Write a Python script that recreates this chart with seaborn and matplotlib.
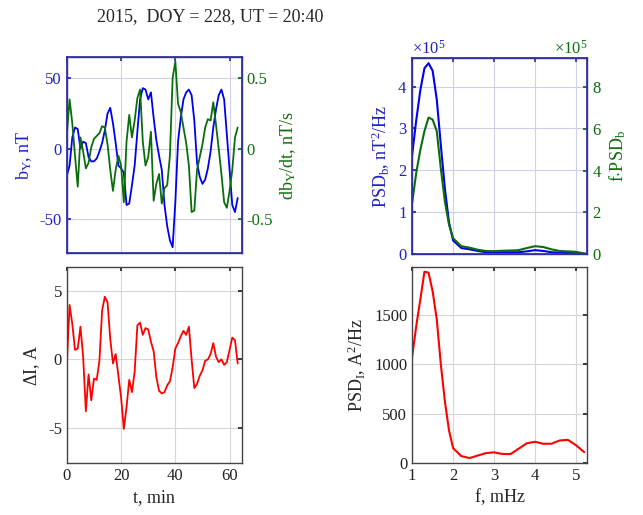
import numpy as np
import pandas as pd
import seaborn as sns
import matplotlib.pyplot as plt
from matplotlib.ticker import ScalarFormatter, FuncFormatter

# time series, 1 min step
t_min = list(range(64))
b_y = [-19, -12, 8, 15, 14, 0, 5, 4, -6, -9, -9, -7, -2, 4, 13, 25,
       29, 18, 4, -12, -14, -17, -40, -39, -26, -12, 12, 35, 43, 42, 35, 40,
       22, 6, -5, -15, -40, -55, -65, -70, -38, 5, 22, 35, 40, 42, 38, 20,
       -10, -20, -25, -22, -14, -2, 15, 28, 38, 42, 35, 10, -15, -40, -45, -35]
db_dt = [0.10, 0.35, 0.18, -0.05, -0.27, 0.08, -0.02, -0.14, -0.10, 0.01, 0.07, 0.09, 0.11, 0.16, 0.15, 0.03,
         -0.15, -0.30, -0.15, -0.05, -0.12, -0.38, 0.05, 0.24, 0.08, 0.20, 0.36, 0.42, 0.05, -0.12, -0.06, 0.12,
         -0.37, -0.25, -0.18, -0.39, -0.28, -0.26, -0.05, 0.50, 0.62, 0.32, 0.26, 0.15, 0.04, -0.12, -0.45, -0.44,
         -0.15, -0.06, 0.03, 0.15, 0.21, 0.20, 0.33, 0.17, 0.00, -0.18, -0.38, -0.42, -0.30, -0.15, 0.08, 0.15]
d_i = [-0.3, 4.0, 2.6, 0.7, 0.8, 2.4, 0.2, -3.8, -1.1, -3.0, -1.4, -1.5, -0.1, 3.6, 4.6, 4.2,
       1.5, -0.3, 0.4, -1.2, -2.8, -5.1, -3.5, -1.5, -2.4, -0.9, 2.5, 2.7, 1.8, 2.3, 2.2, 1.3,
       0.6, -1.3, -2.3, -2.5, -2.4, -1.9, -1.6, -0.6, 0.8, 1.2, 1.7, 2.1, 1.8, 2.4, 0.0, -2.1,
       -1.8, -1.2, -0.8, -0.1, 0.0, 0.4, 1.2, 0.2, -0.2, 0.0, -0.4, -0.2, 0.7, 1.6, 1.4, -0.3]

# spectra
f_mhz = [1.0, 1.1, 1.2, 1.3, 1.4, 1.5, 1.6, 1.7, 1.8, 1.9, 2.0, 2.2, 2.4, 2.6,
         2.8, 3.0, 3.2, 3.4, 3.6, 3.8, 4.0, 4.2, 4.4, 4.6, 4.8, 5.0, 5.25]
psd_b = [2.37, 3.2, 3.92, 4.44, 4.56, 4.38, 3.7, 2.6, 1.55, 0.75, 0.32, 0.14, 0.11, 0.07,
         0.04, 0.04, 0.04, 0.04, 0.04, 0.06, 0.09, 0.07, 0.04, 0.03, 0.02, 0.02, 0.0]
fpsd_b = [2.45, 3.9, 5.0, 5.9, 6.55, 6.45, 5.9, 4.1, 2.5, 1.4, 0.75, 0.37, 0.30, 0.20,
          0.14, 0.13, 0.15, 0.16, 0.18, 0.28, 0.37, 0.33, 0.22, 0.14, 0.12, 0.10, 0.0]
f_i = [1.0, 1.1, 1.2, 1.3, 1.4, 1.5, 1.6, 1.7, 1.8, 1.9, 2.0, 2.2, 2.4, 2.6,
       2.8, 3.0, 3.2, 3.4, 3.6, 3.8, 4.0, 4.2, 4.4, 4.6, 4.8, 5.0, 5.2]
psd_i = [1080, 1390, 1660, 1940, 1930, 1740, 1460, 1000, 620, 330, 150, 70, 50, 75,
         100, 108, 92, 90, 145, 200, 215, 195, 195, 228, 235, 180, 110]

ts = pd.DataFrame({"t": t_min, "b": b_y, "db": db_dt, "dI": d_i})
spb = pd.DataFrame({"f": f_mhz, "psd": np.array(psd_b) * 1e5, "fpsd": np.array(fpsd_b) * 1e5})
spi = pd.DataFrame({"f": f_i, "psd": psd_i})

sns.set_theme(style="white")
plt.rcParams["font.family"] = ["Liberation Serif", "DejaVu Serif"]
plt.rcParams["mathtext.fontset"] = "custom"
plt.rcParams["mathtext.rm"] = "Liberation Serif"
plt.rcParams["mathtext.it"] = "Liberation Serif:italic"
plt.rcParams["axes.unicode_minus"] = False

BLUE = "#0000ee"
GREEN = "#0a6e0a"
RED = "#ff0000"
TXT_BLUE = "#2020c8"
FRAME_BLUE = "#3030a0"
GRID_TOP = "#d0d0ea"
GRID_BOT = "#d6d6d6"
FS = 12

fig = plt.figure(figsize=(6.43, 5.15), dpi=100)
ax1 = fig.add_axes([0.104, 0.509, 0.272, 0.380])
ax2 = fig.add_axes([0.104, 0.101, 0.272, 0.381])
ax3 = fig.add_axes([0.641, 0.507, 0.272, 0.380])
ax4 = fig.add_axes([0.641, 0.101, 0.272, 0.381])

gfmt = FuncFormatter(lambda v, p: f"{v:g}")

def frame(ax, color, grid):
    for s in ax.spines.values():
        s.set_color(color)
        s.set_linewidth(1.0)
    ax.grid(True, color=grid, linewidth=0.8)
    ax.set_axisbelow(True)

# top left: b_Y and db_Y/dt
sns.lineplot(data=ts, x="t", y="b", ax=ax1, color=BLUE, linewidth=1.3)
ax1.set_xlim(0, 64.5)
ax1.set_ylim(-74, 65)
ax1.set_xticks([0, 20, 40, 60])
ax1.set_xticklabels([])
ax1.set_yticks([-50, 0, 50])
ax1.yaxis.set_major_formatter(gfmt)
ax1.set_xlabel("")
ax1.set_ylabel(r"b$_\mathrm{Y}$, nT", color=TXT_BLUE, fontsize=FS + 1)
ax1.tick_params(axis="y", colors=TXT_BLUE, labelsize=FS, direction="in", length=3)
ax1.tick_params(axis="x", direction="in", length=3, top=True, colors=FRAME_BLUE)
frame(ax1, FRAME_BLUE, GRID_TOP)
ax1b = ax1.twinx()
sns.lineplot(data=ts, x="t", y="db", ax=ax1b, color=GREEN, linewidth=1.3)
ax1b.set_ylim(-0.74, 0.65)
ax1b.set_yticks([-0.5, 0, 0.5])
ax1b.yaxis.set_major_formatter(gfmt)
ax1b.set_ylabel(r"db$_\mathrm{Y}$/dt, nT/s", color=GREEN, fontsize=FS + 1)
ax1b.tick_params(axis="y", colors=GREEN, labelsize=FS, direction="in", length=3)
for s in ax1b.spines.values():
    s.set_color(FRAME_BLUE)

# bottom left: delta I
sns.lineplot(data=ts, x="t", y="dI", ax=ax2, color=RED, linewidth=1.3)
ax2.set_xlim(0, 64.5)
ax2.set_ylim(-7.6, 6.8)
ax2.set_xticks([0, 20, 40, 60])
ax2.set_yticks([-5, 0, 5])
ax2.yaxis.set_major_formatter(gfmt)
ax2.set_xlabel("t, min", fontsize=FS + 1)
ax2.set_ylabel(r"$\Delta$I, A", fontsize=FS + 1)
ax2.tick_params(labelsize=FS, direction="in", length=3, top=True, right=True, colors="#222222")
frame(ax2, "#444444", GRID_BOT)

# top right: PSD_b and f*PSD_b
sns.lineplot(data=spb, x="f", y="psd", ax=ax3, color=BLUE, linewidth=1.5)
ax3.set_xlim(1, 5.27)
ax3.set_ylim(0, 4.68e5)
ax3.set_xticks([1, 2, 3, 4, 5])
ax3.set_xticklabels([])
ax3.set_yticks([0, 1e5, 2e5, 3e5, 4e5])
fm = ScalarFormatter(useMathText=True)
fm.set_powerlimits((0, 0))
ax3.yaxis.set_major_formatter(fm)
ax3.yaxis.get_offset_text().set_color(TXT_BLUE)
ax3.yaxis.get_offset_text().set_fontsize(FS)
ax3.set_xlabel("")
ax3.set_ylabel(r"PSD$_\mathrm{b}$, nT$^2$/Hz", color=TXT_BLUE, fontsize=FS + 1)
ax3.tick_params(axis="y", colors=TXT_BLUE, labelsize=FS, direction="in", length=3)
ax3.tick_params(axis="x", direction="in", length=3, top=True, colors=FRAME_BLUE)
frame(ax3, FRAME_BLUE, GRID_TOP)
ax3b = ax3.twinx()
sns.lineplot(data=spb, x="f", y="fpsd", ax=ax3b, color=GREEN, linewidth=1.5)
ax3b.set_ylim(0, 9.4e5)
ax3b.set_yticks([0, 2e5, 4e5, 6e5, 8e5])
fm2 = ScalarFormatter(useMathText=True)
fm2.set_powerlimits((0, 0))
ax3b.yaxis.set_major_formatter(fm2)
ax3b.yaxis.get_offset_text().set_color(GREEN)
ax3b.yaxis.get_offset_text().set_fontsize(FS)
ax3b.set_ylabel(r"f$\cdot$PSD$_\mathrm{b}$", color=GREEN, fontsize=FS + 1)
ax3b.tick_params(axis="y", colors=GREEN, labelsize=FS, direction="in", length=3)
for s in ax3b.spines.values():
    s.set_color(FRAME_BLUE)

# bottom right: PSD_I
sns.lineplot(data=spi, x="f", y="psd", ax=ax4, color=RED, linewidth=1.5)
ax4.set_xlim(1, 5.27)
ax4.set_ylim(0, 1990)
ax4.set_xticks([1, 2, 3, 4, 5])
ax4.set_yticks([0, 500, 1000, 1500])
ax4.set_xlabel("f, mHz", fontsize=FS + 1)
ax4.set_ylabel(r"PSD$_\mathrm{I}$, A$^2$/Hz", fontsize=FS + 1)
ax4.tick_params(labelsize=FS, direction="in", length=3, top=True, right=True, colors="#222222")
frame(ax4, "#444444", GRID_BOT)

fig.text(0.327, 0.968, "2015,  DOY = 228, UT = 20:40", ha="center", va="center", fontsize=FS + 1)

fig.savefig("out.png", dpi=100)
